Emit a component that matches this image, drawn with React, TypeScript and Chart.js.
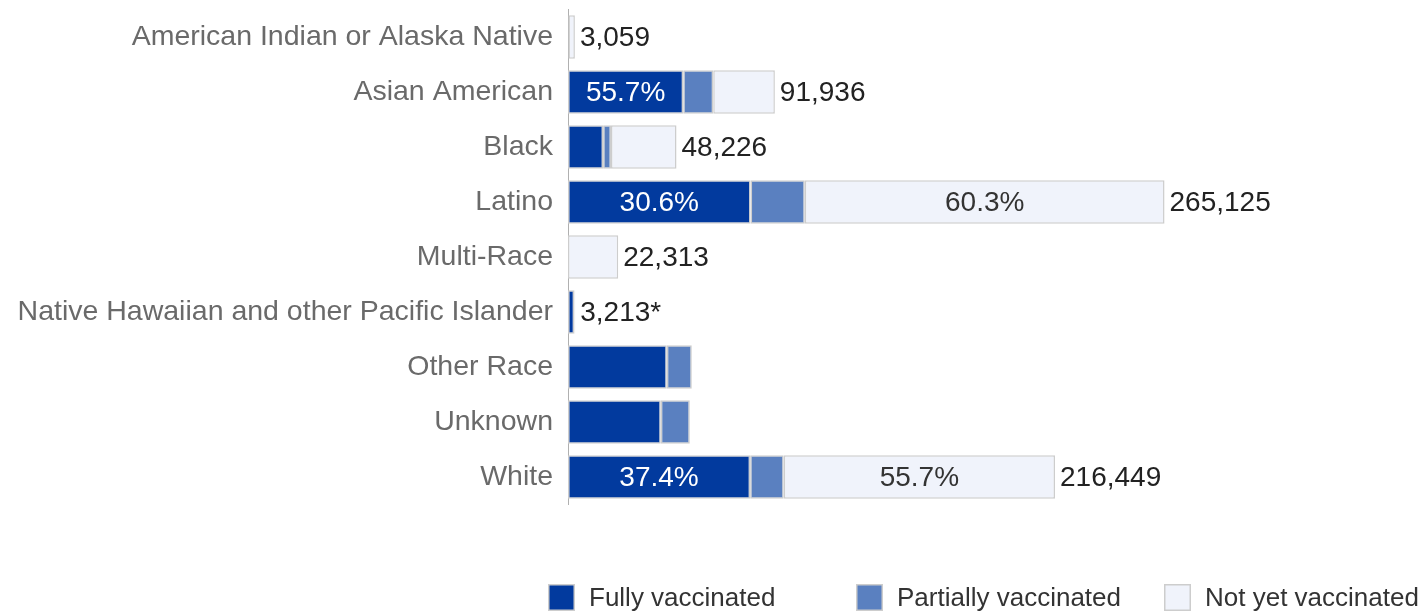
import React, { useEffect, useRef } from "react";
import { Chart, registerables } from "chart.js";

Chart.register(...registerables);

const categories = [
  "American Indian or Alaska Native",
  "Asian American",
  "Black",
  "Latino",
  "Multi-Race",
  "Native Hawaiian and other Pacific Islander",
  "Other Race",
  "Unknown",
  "White",
];

// Population per group (null = no population figure shown)
const population: (number | null)[] = [3059, 91936, 48226, 265125, 22313, 3213, null, null, 216449];
const populationNotes = ["", "", "", "", "", "*", "", "", ""];

const fullyVaccinated = [150, 51208, 15600, 81128, 0, 2750, 43900, 41240, 80952];
const partiallyVaccinated = [50, 13350, 3500, 24127, 0, 150, 11120, 12900, 14935];
const notYetVaccinated = [2859, 27378, 29126, 159870, 22313, 313, 0, 0, 120562];

const seriesLabels = ["Fully vaccinated", "Partially vaccinated", "Not yet vaccinated"];
const seriesColors = ["#023a9e", "#5a80c0", "#f0f3fb"];
const xMax = 300000;

const FONT = "'Liberation Sans', Arial, sans-serif";
const BORDER = "#cdcdcd";

const labelPlugin = {
  id: "barLabels",
  afterDatasetsDraw(chart: any) {
    const ctx = chart.ctx;
    ctx.save();
    ctx.font = `28px ${FONT}`;
    ctx.textBaseline = "middle";
    const metas = chart.data.datasets.map((_: any, k: number) => chart.getDatasetMeta(k));
    categories.forEach((_, i) => {
      let end = -Infinity;
      let y = 0;
      metas.forEach((meta: any, k: number) => {
        const el = meta.data[i];
        if (!el) return;
        end = Math.max(end, el.x, el.base);
        y = el.y;
        const pop = population[i];
        const v = chart.data.datasets[k].data[i] as number;
        if (pop == null || !v) return;
        const txt = ((v / pop) * 100).toFixed(1) + "%";
        const w = Math.abs(el.x - el.base);
        const tw = ctx.measureText(txt).width;
        if (w >= tw + 12) {
          ctx.fillStyle = k === 0 ? "#ffffff" : "#333333";
          ctx.textAlign = "center";
          ctx.fillText(txt, (el.x + el.base) / 2, el.y + 1);
        }
      });
      const pop = population[i];
      if (pop != null) {
        ctx.fillStyle = "#222222";
        ctx.textAlign = "left";
        ctx.fillText(pop.toLocaleString("en-US") + populationNotes[i], end + 5, y + 1);
      }
    });
    ctx.restore();
  },
  afterDraw(chart: any) {
    const ctx = chart.ctx;
    const legendY = 597.5;
    const startX = 548;
    const colW = 308;
    const box = 27;
    ctx.save();
    ctx.font = `26px ${FONT}`;
    ctx.textBaseline = "middle";
    ctx.textAlign = "left";
    chart.data.datasets.forEach((ds: any, k: number) => {
      const x = startX + k * colW;
      ctx.fillStyle = BORDER;
      ctx.fillRect(x, legendY - box / 2, box, box);
      ctx.fillStyle = ds.backgroundColor;
      ctx.fillRect(x + 1.5, legendY - box / 2 + 1.5, box - 3, box - 3);
      ctx.fillStyle = "#333333";
      ctx.fillText(ds.label, x + box + 14, legendY + 1);
    });
    ctx.restore();
  },
};

export default function App() {
  const ref = useRef<HTMLCanvasElement>(null);
  useEffect(() => {
    if (!ref.current) return;
    const series = [fullyVaccinated, partiallyVaccinated, notYetVaccinated];
    const chart = new Chart(ref.current, {
      type: "bar",
      data: {
        labels: categories,
        datasets: series.map((d, k) => ({
          label: seriesLabels[k],
          data: d,
          backgroundColor: seriesColors[k],
          borderColor: BORDER,
          borderWidth: 1.5,
          borderSkipped: false,
          barPercentage: 0.79,
          categoryPercentage: 1,
        })),
      },
      options: {
        indexAxis: "y",
        animation: false,
        responsive: true,
        maintainAspectRatio: false,
        layout: { padding: { top: 9.5, bottom: 108.5, left: 0, right: 178 } },
        plugins: { legend: { display: false }, tooltip: { enabled: false } },
        scales: {
          x: { stacked: true, display: false, min: 0, max: xMax },
          y: {
            stacked: true,
            grid: { display: false, drawTicks: false },
            border: { display: true, dash: [2, 3], color: "#b0b0b0", width: 1 },
            ticks: { color: "#6a6a6a", font: { size: 28.5, family: FONT }, padding: 15 },
            afterFit: (s: any) => {
              s.width = 568;
              s.paddingTop = 0;
              s.paddingBottom = 0;
            },
          },
        },
      },
      plugins: [labelPlugin],
    });
    return () => chart.destroy();
  }, []);
  return (
    <div style={{ position: "fixed", left: 0, top: 0, width: 1421, height: 613 }}>
      <canvas ref={ref} />
    </div>
  );
}
